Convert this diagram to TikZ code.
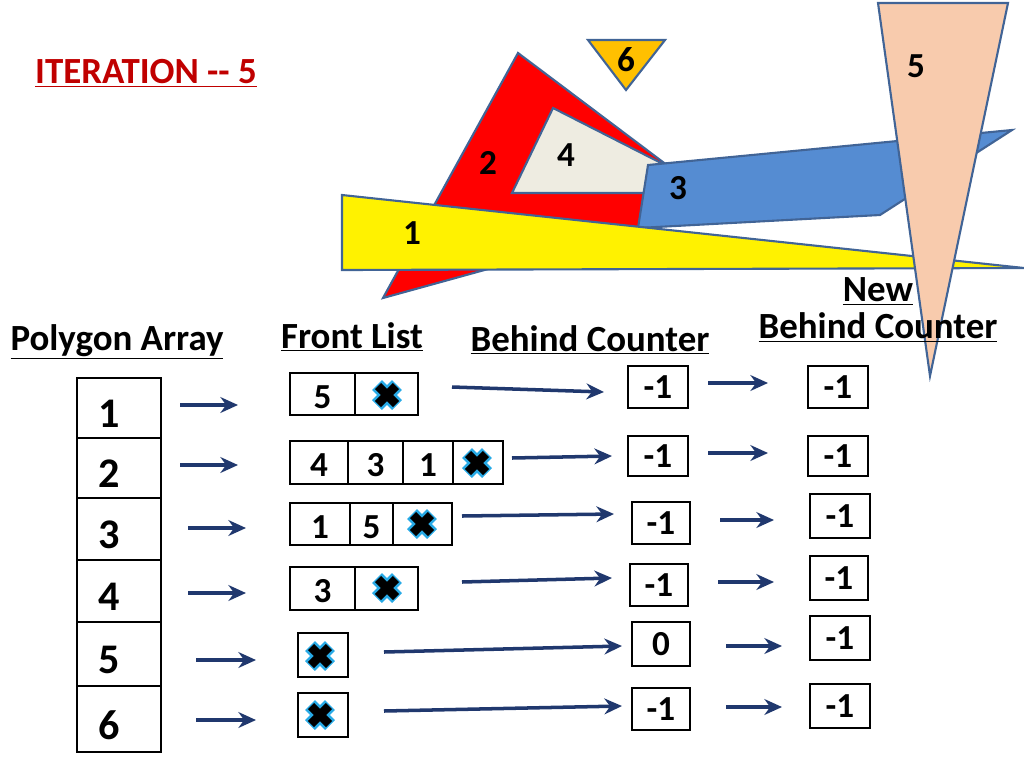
\documentclass[tikz,border=0pt]{standalone}
\usepackage{fontspec}
\setmainfont{Carlito}
\usetikzlibrary{arrows.meta}
\definecolor{navy}{RGB}{32,56,110}
\definecolor{edge}{RGB}{65,100,150}
\definecolor{titlered}{RGB}{192,0,0}
\definecolor{peach}{RGB}{248,203,173}
\definecolor{shapeblue}{RGB}{85,140,210}
\definecolor{lightgrey}{RGB}{238,236,225}
\definecolor{gold}{RGB}{255,192,0}
\definecolor{crossblue}{RGB}{40,170,230}
\begin{document}
\begin{tikzpicture}[
        x=0.02cm, y=-0.02cm,
        every node/.style={font=\bfseries\fontsize{20}{23}\selectfont},
        poly/.style={draw=edge, line width=1.2pt},
        head/.style={font=\bfseries\fontsize{21}{23}\selectfont, align=center},
        go/.style={-{Stealth[length=10pt,width=9pt]}, navy, line width=2pt}
    ]
    \useasboundingbox (0,0) rectangle (1024,768);

    % polygons
    \fill[red, poly] (518,53) -- (383,298) -- (720,205) -- cycle;
    \fill[lightgrey, poly] (553,108) -- (512,193) -- (720,193) -- cycle;
    \fill[shapeblue, poly] (648,165) -- (1012,130) -- (880,215) -- (638,228) -- cycle;
    \fill[yellow, poly] (342,195) -- (342,270) -- (1024,268) -- cycle;
    \fill[peach, poly] (878,3) -- (1008,3) -- (930,376) -- cycle;
    \fill[gold, poly] (588,40) -- (665,40) -- (626,90) -- cycle;
    \node at (488,163) {2};
    \node at (566,155) {4};
    \node at (678,188) {3};
    \node at (412,233) {1};
    \node at (916,66) {5};
    \node at (626,60) {6};

    % headings
    \node[titlered, head] (title) at (146,73) {\underline{ITERATION {-}{-} 5}};
    \node[head] (hArray) at (117,342) {\underline{Polygon Array}};
    \node[head] (hFront) at (352,337) {\underline{Front List}};
    \node[head] (hBehind) at (590,340) {\underline{Behind Counter}};
    \node[head] (hNew) at (878,310) {\underline{New}\\[-2pt]\underline{Behind Counter}};

    % polygon array
    \foreach \i/\ya/\yb in {1/378/438, 2/438/498, 3/498/560, 4/560/622, 5/622/686, 6/686/752} {
        \draw[line width=1.2pt] (77,\ya) rectangle (161,\yb);
        \node[anchor=west, font=\bfseries\fontsize{24}{26}\selectfont] (p\i) at (92,{(\ya+\yb)/2+6}) {\i};
    }

    % front list cells
    \foreach \name/\xa/\xb/\ya/\yb/\txt in {
        f11/290/355/373/415/5, f12/355/418/373/415/,
        f21/290/348/441/484/4, f22/348/403/441/484/3, f23/403/453/441/484/1, f24/453/503/441/484/,
        f31/290/350/503/545/1, f32/350/393/503/545/5, f33/393/452/503/545/,
        f41/290/355/567/610/3, f42/355/418/567/610/,
        f51/298/348/633/677/, f61/298/348/693/737/} {
        \draw[line width=1pt] (\xa,\ya) rectangle (\xb,\yb);
        \node (\name) at ({(\xa+\xb)/2},{(\ya+\yb)/2+3}) {\txt};
    }

    % crosses
    \foreach \cx/\cy in {387/395, 477/463, 422/524, 387/588, 320/656, 320/715} {
        \draw[crossblue, line width=8pt] (\cx-10,\cy-10) -- (\cx+10,\cy+10) (\cx-10,\cy+10) -- (\cx+10,\cy-10);
        \draw[black, line width=5pt] (\cx-9,\cy-9) -- (\cx+9,\cy+9) (\cx-9,\cy+9) -- (\cx+9,\cy-9);
    }

    % counters
    \foreach \name/\xa/\xb/\ya/\yb/\txt in {
        b1/628/688/366/408/-1, b2/628/688/436/476/-1, b3/632/690/502/544/-1,
        b4/630/688/564/606/-1, b5/632/690/622/666/0, b6/632/690/688/730/-1,
        n1/808/868/366/408/-1, n2/808/868/436/476/-1, n3/810/870/494/538/-1,
        n4/810/868/556/600/-1, n5/810/870/616/660/-1, n6/810/870/684/728/-1} {
        \draw[line width=1pt] (\xa,\ya) rectangle (\xb,\yb);
        \node (\name) at ({(\xa+\xb)/2},{(\ya+\yb)/2}) {\txt};
    }

    % arrows
    \foreach \i/\xa/\xb/\y in {1/180/238/405, 2/180/238/465, 3/188/246/528, 4/188/246/593, 5/196/256/660, 6/196/256/720} {
        \coordinate (s\i) at (\xa,\y);
        \coordinate (t\i) at (\xb,\y);
        \draw[go] (s\i) -- (t\i);
    }
    \foreach \i/\xa/\ya/\xb/\yb in {1/452/387/604/392, 2/512/458/612/456, 3/462/516/614/514, 4/462/582/612/578, 5/384/652/622/646, 6/384/711/622/706} {
        \coordinate (u\i) at (\xa,\ya);
        \coordinate (v\i) at (\xb,\yb);
        \draw[go] (u\i) -- (v\i);
    }
    \foreach \i/\xa/\xb/\y in {1/708/768/383, 2/708/768/453, 3/720/774/520, 4/718/774/582, 5/726/782/646, 6/726/782/707} {
        \coordinate (w\i) at (\xa,\y);
        \coordinate (z\i) at (\xb,\y);
        \draw[go] (w\i) -- (z\i);
    }

\end{tikzpicture}
\end{document}
